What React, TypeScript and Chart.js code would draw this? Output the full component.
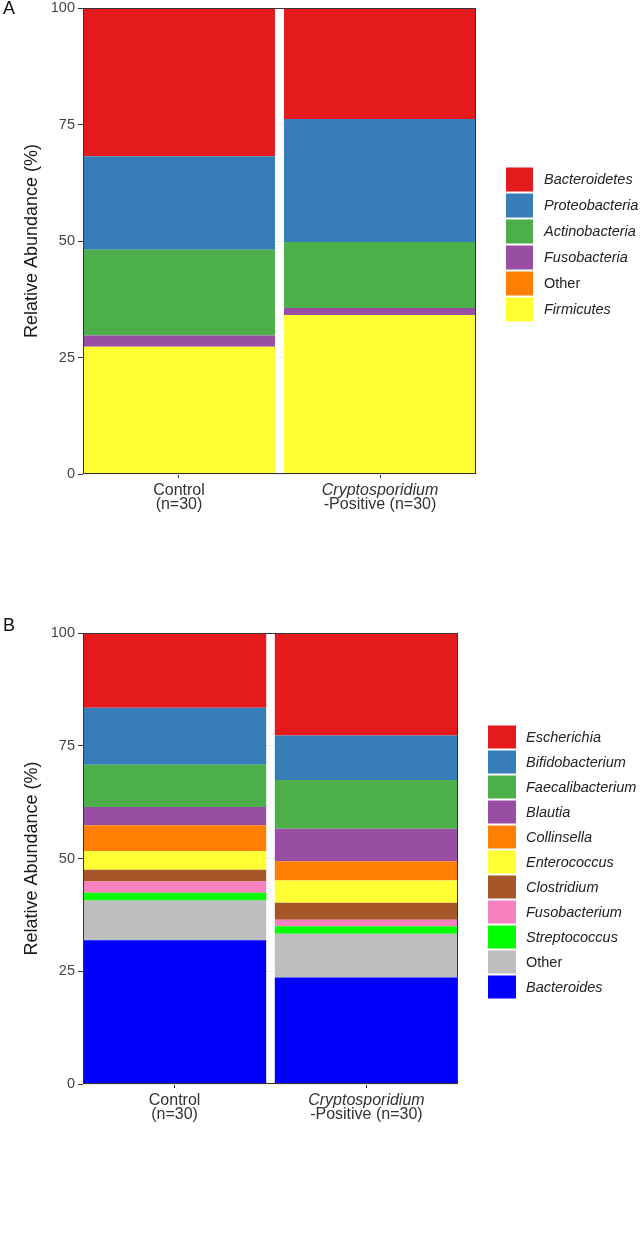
import React, { useEffect, useRef } from 'react';
import { Chart, registerables } from 'chart.js';

Chart.register(...registerables);

const FONT = '"Liberation Sans", Arial, sans-serif';

// Shared axis data
const groupIndex = [1, 2];
const xLabelLines = [
  [{ text: 'Control', italic: false }, { text: '(n=30)', italic: false }],
  [{ text: 'Cryptosporidium', italic: true }, { text: '-Positive (n=30)', italic: false }],
];
const yTicks = [0, 25, 50, 75, 100];
const yTitle = 'Relative Abundance (%)';

// Panel A — phyla (bottom of stack first)
const phylumNames = ['Firmicutes', 'Other', 'Fusobacteria', 'Actinobacteria', 'Proteobacteria', 'Bacteroidetes'];
const phylumItalic = [true, false, true, true, true, true];
const phylumColors = ['#FFFF33', '#FF7F00', '#984EA3', '#4DAF4A', '#377EB8', '#E41A1C'];
const firmicutes = [27.3, 34.1];
const otherPhyla = [0, 0];
const fusobacteria = [2.4, 1.5];
const actinobacteria = [18.4, 14.2];
const proteobacteria = [20.1, 26.4];
const bacteroidetes = [31.8, 23.8];

// Panel B — genera (bottom of stack first)
const genusNames = ['Bacteroides', 'Other', 'Streptococcus', 'Fusobacterium', 'Clostridium', 'Enterococcus', 'Collinsella', 'Blautia', 'Faecalibacterium', 'Bifidobacterium', 'Escherichia'];
const genusItalic = [true, false, true, true, true, true, true, true, true, true, true];
const genusColors = ['#0000FF', '#BEBEBE', '#00FF00', '#F781BF', '#A65628', '#FFFF33', '#FF7F00', '#984EA3', '#4DAF4A', '#377EB8', '#E41A1C'];
const bacteroides = [31.9, 23.6];
const otherGenera = [8.8, 9.7];
const streptococcus = [1.7, 1.7];
const fusobacterium = [2.5, 1.4];
const clostridium = [2.6, 3.8];
const enterococcus = [4.1, 4.9];
const collinsella = [5.8, 4.3];
const blautia = [4.0, 7.2];
const faecalibacterium = [9.4, 10.8];
const bifidobacterium = [12.6, 9.9];
const escherichia = [16.6, 22.7];

const BAR_W = 0.955;

const panels = [
  {
    letter: 'A',
    letterY: 9,
    height: 600,
    padTop: 8,
    padRight: 168,
    padBottom: 86,
    names: phylumNames,
    italic: phylumItalic,
    colors: phylumColors,
    values: [firmicutes, otherPhyla, fusobacteria, actinobacteria, proteobacteria, bacteroidetes],
    keyW: 27,
    keyH: 24,
    pitch: 26,
  },
  {
    letter: 'B',
    letterY: 26,
    height: 640,
    padTop: 33,
    padRight: 186,
    padBottom: 116,
    names: genusNames,
    italic: genusItalic,
    colors: genusColors,
    values: [bacteroides, otherGenera, streptococcus, fusobacterium, clostridium, enterococcus, collinsella, blautia, faecalibacterium, bifidobacterium, escherichia],
    keyW: 28,
    keyH: 23,
    pitch: 25,
  },
];

function makeDecor(spec: any) {
  return {
    id: 'decor' + spec.letter,
    afterDraw(chart: any) {
      const { ctx, chartArea } = chart;
      const { left, right, top, bottom } = chartArea;
      ctx.save();
      // panel border
      ctx.strokeStyle = '#333333';
      ctx.lineWidth = 1;
      ctx.strokeRect(Math.round(left) + 0.5, Math.round(top) + 0.5, Math.round(right - left) - 1, Math.round(bottom - top) - 1);

      // x-axis labels (mixed italic)
      const xs = chart.scales.x;
      ctx.fillStyle = '#333333';
      ctx.textAlign = 'center';
      ctx.textBaseline = 'middle';
      groupIndex.forEach((g, i) => {
        const px = xs.getPixelForValue(g);
        xLabelLines[i].forEach((ln, k) => {
          ctx.font = (ln.italic ? 'italic ' : '') + '16px ' + FONT;
          ctx.fillText(ln.text, px, bottom + 17 + k * 14);
        });
      });

      // legend (top of stack first)
      const n = spec.names.length;
      const keyX = right + 30;
      const textX = keyX + 38;
      const startY = (top + bottom) / 2 - (n * spec.pitch) / 2 + 4.5;
      ctx.textAlign = 'left';
      for (let r = 0; r < n; r++) {
        const idx = n - 1 - r;
        const y = startY + r * spec.pitch;
        ctx.fillStyle = spec.colors[idx];
        ctx.fillRect(keyX, y, spec.keyW, spec.keyH);
        ctx.fillStyle = '#222222';
        ctx.font = (spec.italic[idx] ? 'italic ' : '') + '14.5px ' + FONT;
        ctx.fillText(spec.names[idx], textX, y + spec.keyH / 2 + 0.5);
      }

      // panel letter
      ctx.fillStyle = '#111111';
      ctx.font = '18px ' + FONT;
      ctx.textAlign = 'left';
      ctx.fillText(spec.letter, 3, spec.letterY);
      ctx.restore();
    },
  };
}

function Panel({ spec }: { spec: any }) {
  const ref = useRef<HTMLCanvasElement>(null);
  useEffect(() => {
    const chart = new Chart(ref.current as HTMLCanvasElement, {
      type: 'bar',
      data: {
        datasets: spec.names.map((name: string, i: number) => ({
          label: name,
          data: spec.values[i].map((v: number, j: number) => ({ x: groupIndex[j], y: v })),
          backgroundColor: spec.colors[i],
          borderWidth: 0,
          barPercentage: BAR_W,
          categoryPercentage: 1,
        })),
      },
      options: {
        responsive: false,
        animation: false,
        devicePixelRatio: 1,
        layout: { padding: { left: 0, right: spec.padRight, top: spec.padTop, bottom: spec.padBottom } },
        plugins: { legend: { display: false }, tooltip: { enabled: false } },
        scales: {
          x: {
            type: 'linear',
            stacked: true,
            offset: false,
            min: 1 - BAR_W / 2,
            max: 2 + BAR_W / 2,
            afterBuildTicks: (s: any) => {
              s.ticks = groupIndex.map((v) => ({ value: v }));
            },
            ticks: { display: false },
            grid: { offset: false, drawOnChartArea: false, drawTicks: true, tickLength: 4, tickColor: '#333333' },
            border: { display: false },
            afterFit: (s: any) => {
              s.height = 40;
              s.paddingLeft = 0;
              s.paddingRight = 0;
            },
          },
          y: {
            stacked: true,
            min: 0,
            max: 100,
            afterBuildTicks: (s: any) => {
              s.ticks = yTicks.map((v) => ({ value: v }));
            },
            ticks: { font: { family: FONT, size: 14.5 }, color: '#444444', padding: 3 },
            grid: { offset: false, color: '#eeeeee', tickColor: '#333333', tickLength: 5, drawTicks: true },
            border: { display: false },
            title: {
              display: true,
              text: yTitle,
              font: { family: FONT, size: 18 },
              color: '#1a1a1a',
              padding: { top: 21, bottom: 0 },
            },
            afterFit: (s: any) => {
              s.width = 83;
              s.paddingTop = 0;
              s.paddingBottom = 0;
            },
          },
        },
      } as any,
      plugins: [makeDecor(spec)],
    });
    return () => chart.destroy();
  }, []);
  return <canvas ref={ref} width={644} height={spec.height} style={{ display: 'block', width: 644, height: spec.height }} />;
}

export default function App() {
  useEffect(() => {
    document.body.style.margin = '0';
    document.body.style.background = '#ffffff';
  }, []);
  return (
    <div style={{ width: 644, background: '#ffffff' }}>
      {panels.map((p) => (
        <Panel key={p.letter} spec={p} />
      ))}
    </div>
  );
}
